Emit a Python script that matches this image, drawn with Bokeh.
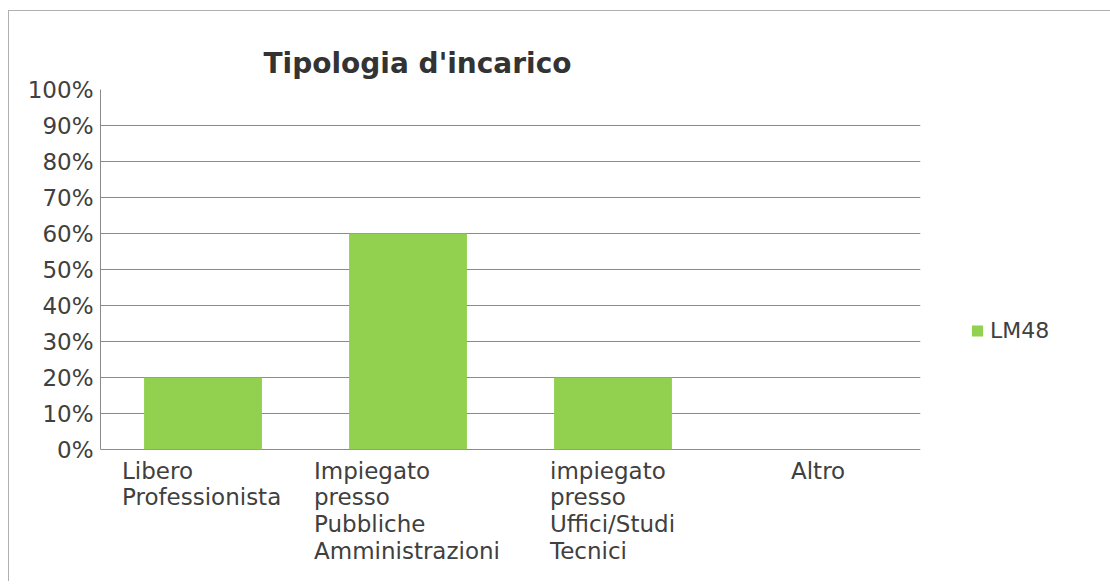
from bokeh.plotting import figure
from bokeh.models import (ColumnDataSource, FactorRange, Range1d, FixedTicker,
                          NumeralTickFormatter, Legend, LegendItem)
from bokeh.core.properties import value
from bokeh.embed import file_html
from bokeh.resources import INLINE

# ---- data ----
categories = ["Libero Professionista",
              "Impiegato presso Pubbliche Amministrazioni",
              "impiegato presso Uffici/Studi Tecnici",
              "Altro"]
category_labels = ["Libero\nProfessionista",
                   "Impiegato\npresso\nPubbliche\nAmministrazioni",
                   "impiegato\npresso\nUffici/Studi\nTecnici",
                   "Altro"]
series_name = "LM48"
values = [0.20, 0.60, 0.20, 0.0]
y_ticks = [0.0, 0.1, 0.2, 0.3, 0.4, 0.5, 0.6, 0.7, 0.8, 0.9, 1.0]
title_text = "Tipologia d'incarico"

# ---- styling / geometry ----
FONT = "DejaVu Sans"
TEXT_COLOR = "#404040"
GRID_COLOR = "#8a8a8a"
BAR_COLOR = "#92D050"
label_dx = [-81, -94, -63, -27]   # left-aligned text blocks centred under each category

W, H = 1100, 570
MB_LEFT, MB_TOP, MB_RIGHT, MB_BOTTOM = 91, 78, 189, 10
FRAME_W = W - MB_LEFT - MB_RIGHT
FRAME_H = H - MB_TOP - MB_BOTTOM
value_px = 360                            # px for 0..100 %
y_start = -(FRAME_H - value_px) / value_px

src = ColumnDataSource(dict(cat=categories, val=values,
                            lab=category_labels, dx=label_dx,
                            zero=[0.0] * len(categories)))

p = figure(frame_width=FRAME_W, frame_height=FRAME_H,
           output_backend="svg", toolbar_location=None,
           x_range=FactorRange(*categories, range_padding=0),
           y_range=Range1d(y_start, 1),
           min_border_left=MB_LEFT, min_border_right=MB_RIGHT,
           min_border_top=MB_TOP, min_border_bottom=MB_BOTTOM,
           background_fill_color="white", border_fill_color="white")
p.styles = {"border-left": "1px solid #b0b0b0", "border-top": "1px solid #b0b0b0",
            "margin-left": "8px", "margin-top": "10px"}
p.outline_line_color = None

r = p.vbar(x="cat", top="val", width=0.575, source=src,
           fill_color=BAR_COLOR, line_color=None)

# category labels (left-aligned blocks under the bars)
p.text(x="cat", y="zero", text="lab", source=src,
       x_offset="dx", y_offset=8,
       text_align="left", text_baseline="top",
       text_font=value(FONT), text_font_size="23px",
       text_color=TEXT_COLOR, text_line_height=1.03)

# title
p.title.text = title_text
p.title.text_font = FONT
p.title.text_font_size = "28px"
p.title.text_font_style = "bold"
p.title.text_color = "#333333"
p.title.align = "left"
p.title.offset = 163
p.title.standoff = 20

# y axis
p.yaxis.ticker = FixedTicker(ticks=y_ticks)
p.yaxis.bounds = (0, 1)
p.yaxis.formatter = NumeralTickFormatter(format="0%")
p.yaxis.major_label_text_font = FONT
p.yaxis.major_label_text_font_size = "23px"
p.yaxis.major_label_text_color = TEXT_COLOR
p.yaxis.axis_line_color = GRID_COLOR
p.yaxis.major_tick_line_color = None
p.yaxis.minor_tick_line_color = None
p.yaxis.major_tick_out = 0
p.yaxis.major_tick_in = 0
p.yaxis.major_label_standoff = 7

p.xaxis.visible = False
p.xgrid.grid_line_color = None
p.ygrid.grid_line_color = GRID_COLOR
p.ygrid.ticker = FixedTicker(ticks=y_ticks)

legend = Legend(items=[LegendItem(label=series_name, renderers=[r])],
                location="center_left", orientation="vertical",
                border_line_color=None, background_fill_alpha=0,
                padding=0, margin=50, spacing=0,
                glyph_width=14, glyph_height=14, label_standoff=6,
                label_text_font=FONT, label_text_font_size="22px",
                label_text_color=TEXT_COLOR, label_height=20)
p.add_layout(legend, "right")

open("out.html", "w").write(file_html(p, INLINE))
